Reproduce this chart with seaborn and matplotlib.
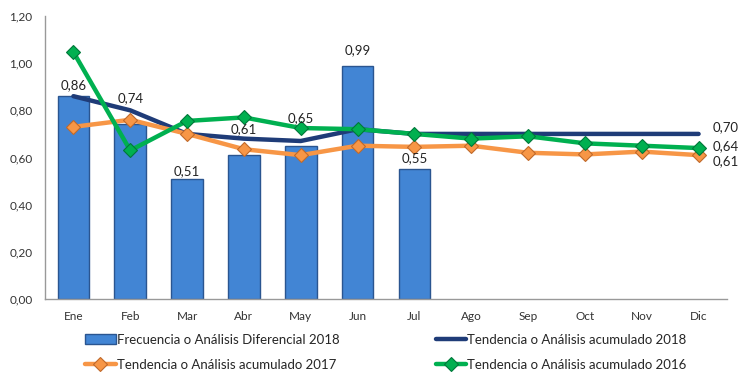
import numpy as np
import pandas as pd
import matplotlib
matplotlib.use("Agg")
import matplotlib.pyplot as plt
from matplotlib.ticker import FuncFormatter
import seaborn as sns

# data
meses = ['Ene', 'Feb', 'Mar', 'Abr', 'May', 'Jun', 'Jul', 'Ago', 'Sep', 'Oct', 'Nov', 'Dic']
frecuencia_2018 = [0.86, 0.74, 0.51, 0.61, 0.65, 0.99, 0.55]
tendencia_2018 = [0.86, 0.80, 0.70, 0.68, 0.67, 0.72, 0.70, 0.70, 0.70, 0.70, 0.70, 0.70]
tendencia_2017 = [0.73, 0.76, 0.70, 0.635, 0.61, 0.65, 0.645, 0.65, 0.62, 0.613, 0.625, 0.61]
tendencia_2016 = [1.047, 0.63, 0.755, 0.77, 0.725, 0.72, 0.70, 0.68, 0.69, 0.66, 0.65, 0.64]

lbl_bar = 'Frecuencia o Análisis Diferencial 2018'
lbl_18 = 'Tendencia o Análisis acumulado 2018'
lbl_17 = 'Tendencia o Análisis acumulado 2017'
lbl_16 = 'Tendencia o Análisis acumulado 2016'

# label offsets above each bar (pixels), to mimic the original placement
bar_label_offsets = [5, 20, 2, 20, 22, 9, 5]

sns.set_theme(style="white")
plt.rcParams['font.family'] = ['Lato', 'DejaVu Sans']

df_bar = pd.DataFrame({'mes': meses[:len(frecuencia_2018)], 'valor': frecuencia_2018})
x = np.arange(len(meses))

fig = plt.figure(figsize=(7.42, 3.86), dpi=100)
ax = fig.add_axes([45 / 742, (386 - 299) / 386, (727 - 45) / 742, (299 - 16) / 386])

sns.barplot(data=df_bar, x='mes', y='valor', order=meses, color='#4285d4',
            width=0.56, edgecolor='#2a5590', linewidth=1.0, saturation=1,
            label=lbl_bar, ax=ax)

sns.lineplot(x=x, y=tendencia_2018, color='#1f3c78', linewidth=3.2,
             label=lbl_18, ax=ax, zorder=3)
sns.lineplot(x=x, y=tendencia_2017, color='#f79646', linewidth=3.2,
             marker='D', markersize=7, markeredgecolor='#c0692a', markeredgewidth=0.8,
             label=lbl_17, ax=ax, zorder=4)
sns.lineplot(x=x, y=tendencia_2016, color='#00b050', linewidth=3.2,
             marker='D', markersize=7, markeredgecolor='#00783a', markeredgewidth=0.8,
             label=lbl_16, ax=ax, zorder=5)

fmt = lambda v: f"{v:.2f}".replace('.', ',')

for i, (v, off) in enumerate(zip(frecuencia_2018, bar_label_offsets)):
    ax.annotate(fmt(v), (i, v), xytext=(0, off), textcoords='offset pixels',
                ha='center', va='bottom', fontsize=9.5, color='#222222', zorder=6)

# end-of-line labels
for vals, dy in [(tendencia_2018, 7), (tendencia_2016, 2), (tendencia_2017, -6)]:
    ax.annotate(fmt(vals[-1]), (len(meses) - 1, vals[-1]), xytext=(14, dy),
                textcoords='offset pixels', ha='left', va='center',
                fontsize=9.5, color='#222222', zorder=6)

ax.set_xlim(-0.5, len(meses) - 0.5)
ax.set_ylim(0, 1.2)
ax.set_yticks(np.arange(0, 1.21, 0.2))
ax.yaxis.set_major_formatter(FuncFormatter(lambda v, p: fmt(v)))
ax.set_xlabel('')
ax.set_ylabel('')
ax.tick_params(axis='both', labelsize=8.5, colors='#333333', length=0, pad=9)

for s in ['top', 'right']:
    ax.spines[s].set_visible(False)
for s in ['left', 'bottom']:
    ax.spines[s].set_color('#999999')
    ax.spines[s].set_linewidth(1)

handles, labels = ax.get_legend_handles_labels()
order = [labels.index(l) for l in [lbl_bar, lbl_17, lbl_18, lbl_16]]
ax.legend([handles[i] for i in order], [labels[i] for i in order],
          loc='upper center', bbox_to_anchor=(0.5, -0.08), ncol=2, frameon=False,
          fontsize=9.5, handlelength=2.3, columnspacing=7.3, handletextpad=0.1,
          labelspacing=1.0)

fig.savefig('out.png', dpi=100)
